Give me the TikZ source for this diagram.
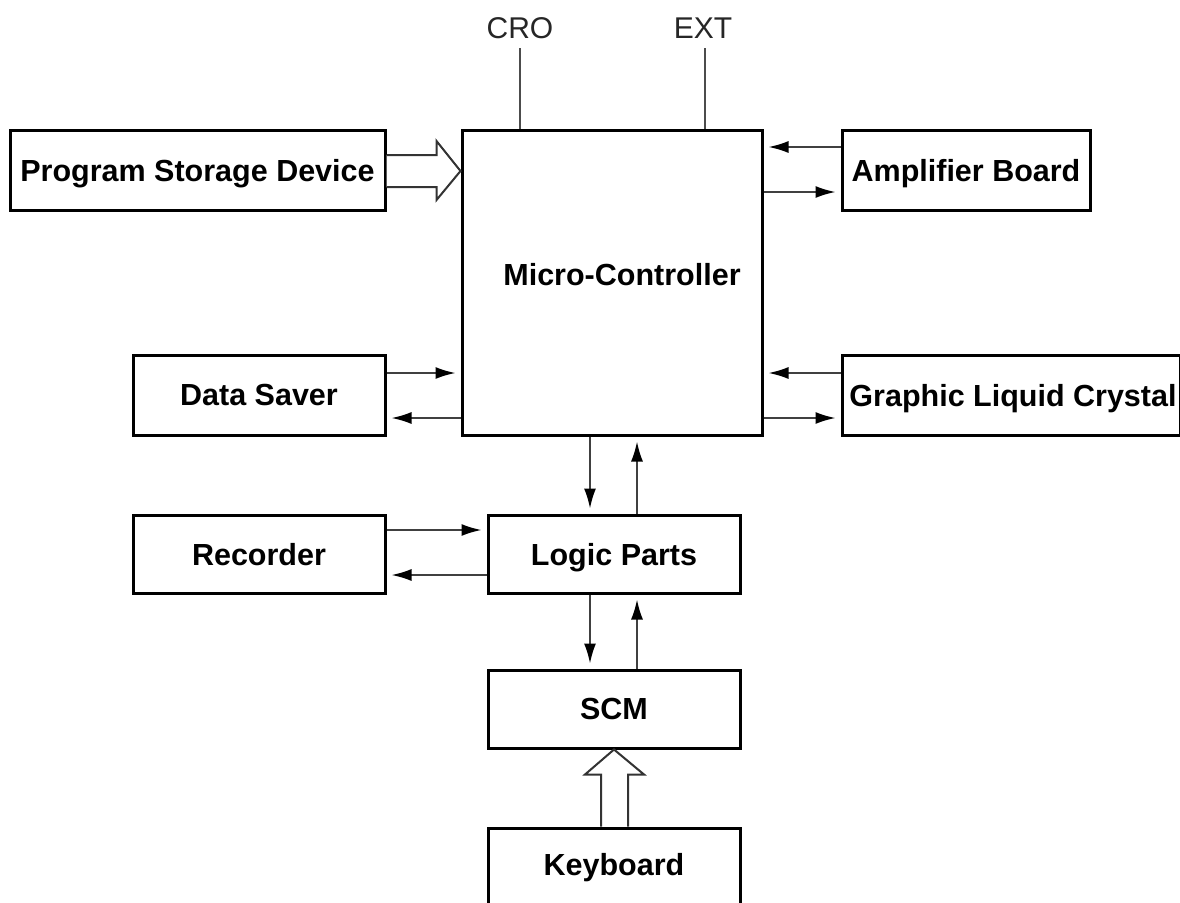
\documentclass[tikz,border=0pt]{standalone}
\usepackage{fontspec}
\setmainfont{Liberation Sans}
\usetikzlibrary{arrows.meta,calc}
\begin{document}
\begin{tikzpicture}[x=1pt,y=-1pt,
  lbl/.style={font=\fontsize{30.5}{33}\selectfont\bfseries,text depth=0pt},
  box/.style={draw=black,line width=3pt,inner sep=0pt,lbl},
  conn/.style={draw=black!75,line width=1.8pt,-{Latex[length=20pt,width=12pt,fill=black,color=black]},shorten >=5pt},
  plain/.style={draw=black!70,line width=2pt},
  hollow/.style={draw=black!80,line width=2pt,fill=white,line join=miter},
  toplabel/.style={font=\fontsize{30}{32}\selectfont,text=black!85,inner sep=0pt}]
\clip (0,0) rectangle (1180,902);
\useasboundingbox (0,0) rectangle (1180,902);
\fill[white] (0,0) rectangle (1180,902);
% boxes
\node[box,minimum width=375pt,minimum height=80pt] (psd) at (197.5,170) {Program Storage Device};
\node[box,minimum width=300pt,minimum height=305pt] (mc) at (612,282.5) {};
\node[lbl,inner sep=0pt] (mclabel) at (622,274) {Micro-Controller};
\node[box,minimum width=248pt,minimum height=80pt] (amp) at (966,170) {Amplifier Board};
\node[box,minimum width=338pt,minimum height=80pt] (glc) at (1011,395) {};
\node[lbl,inner sep=0pt] (glclabel) at (1013,395) {Graphic Liquid Crystal};
\node[box,minimum width=252pt,minimum height=80pt] (ds) at (259,395) {Data Saver};
\node[box,minimum width=252pt,minimum height=78pt] (rec) at (259,554) {Recorder};
\node[box,minimum width=252pt,minimum height=78pt] (lp) at (614,554) {Logic Parts};
\node[box,minimum width=252pt,minimum height=78pt] (scm) at (614,709) {SCM};
\node[box,minimum width=252pt,minimum height=76pt] (kb) at (614,866) {};
\node[lbl,inner sep=0pt] (kblabel) at (614,864) {Keyboard};
% top labels
\node[toplabel] (cro) at (520,28) {CRO};
\node[toplabel] (ext) at (703,28) {EXT};
\coordinate (croe) at (520,48);
\coordinate (exte) at (705,48);
\draw[plain] (croe) -- (croe |- mc.north);
\draw[plain] (exte) -- (exte |- mc.north);
% hollow arrow PSD -> MC
\coordinate (hb) at ($(mc.west)+(-24,0)$);
\coordinate (pa) at ($(psd.east)+(0,-15)$);
\coordinate (pb) at ($(psd.east)+(0,17)$);
\coordinate (pc) at ($(psd.east)+(0,-29)$);
\coordinate (pd) at ($(psd.east)+(0,30)$);
\coordinate (pe) at ($(psd.east)+(0,1)$);
\draw[hollow] (pa) -- (hb |- pa) -- (hb |- pc) -- (mc.west |- pe) -- (hb |- pd) -- (hb |- pb) -- (pb);
% amplifier
\coordinate (a1) at ($(amp.west)+(0,-23)$);
\coordinate (a2) at ($(amp.west)+(0,22)$);
\draw[conn] (a1) -- (a1 -| mc.east);
\draw[conn] (a2 -| mc.east) -- (a2);
% glc
\coordinate (g1) at ($(glc.west)+(0,-22)$);
\coordinate (g2) at ($(glc.west)+(0,23)$);
\draw[conn] (g1) -- (g1 -| mc.east);
\draw[conn] (g2 -| mc.east) -- (g2);
% data saver
\coordinate (d1) at ($(ds.east)+(0,-22)$);
\coordinate (d2) at ($(ds.east)+(0,23)$);
\draw[conn] (d1) -- (d1 -| mc.west);
\draw[conn] (d2 -| mc.west) -- (d2);
% mc <-> logic
\coordinate (m1) at ($(mc.south)+(-22,0)$);
\coordinate (m2) at ($(mc.south)+(25,0)$);
\draw[conn] (m1) -- (m1 |- lp.north);
\draw[conn] (m2 |- lp.north) -- (m2);
% recorder
\coordinate (r1) at ($(rec.east)+(0,-24)$);
\coordinate (r2) at ($(rec.east)+(0,21)$);
\draw[conn] (r1) -- (r1 -| lp.west);
\draw[conn] (r2 -| lp.west) -- (r2);
% logic <-> scm
\coordinate (l1) at ($(lp.south)+(-24,0)$);
\coordinate (l2) at ($(lp.south)+(23,0)$);
\draw[conn] (l1) -- (l1 |- scm.north);
\draw[conn] (l2 |- scm.north) -- (l2);
% hollow arrow keyboard -> scm
\coordinate (sb) at ($(scm.south)+(0,25)$);
\coordinate (ka) at ($(kb.north)+(-13,0)$);
\coordinate (kz) at ($(kb.north)+(14,0)$);
\coordinate (kc) at ($(kb.north)+(-29,0)$);
\coordinate (kd) at ($(kb.north)+(30,0)$);
\draw[hollow] (ka) -- (ka |- sb) -- (kc |- sb) -- (scm.south) -- (kd |- sb) -- (kz |- sb) -- (kz);
\end{tikzpicture}
\end{document}
